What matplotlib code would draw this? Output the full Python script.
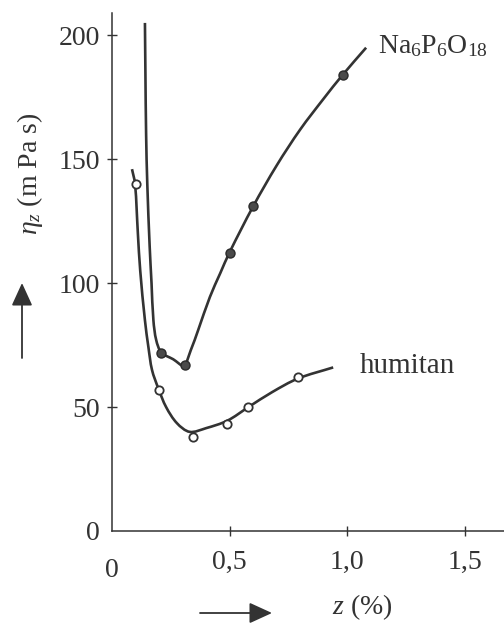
import numpy as np
import matplotlib
matplotlib.use("Agg")
import matplotlib.pyplot as plt
from matplotlib.path import Path
from matplotlib.patches import PathPatch

# measured points (z in %, viscosity in mPa s)
na_z = [0.21, 0.31, 0.50, 0.60, 0.98]
na_eta = [72, 67, 112, 131, 184]
hum_z = [0.10, 0.20, 0.345, 0.49, 0.58, 0.79]
hum_eta = [140, 57, 38, 43, 50, 62]

# hand-drawn trend curves through the points
na_curve_z = [0.140, 0.142, 0.145, 0.150, 0.160, 0.168, 0.176, 0.188, 0.21, 0.26, 0.305,
              0.335, 0.366, 0.416, 0.46, 0.50, 0.60, 0.70, 0.80, 0.90, 0.98, 1.08]
na_curve_eta = [205, 185, 160, 140, 115, 100, 85, 77, 72, 69.3, 66.8,
                73, 81, 94.4, 104, 112.5, 131, 147.5, 162, 174.5, 184, 195]
hum_curve_z = [0.085, 0.098, 0.11, 0.12, 0.14, 0.155, 0.17, 0.197, 0.23, 0.276, 0.33,
               0.40, 0.49, 0.58, 0.68, 0.79, 0.94]
hum_curve_eta = [146, 140, 120, 105, 85, 74, 65, 57.5, 50, 43.5, 40,
                 41.5, 44.5, 50, 56, 61.5, 66]

xticks = [0.5, 1.0, 1.5]
xtick_labels = ["0,5", "1,0", "1,5"]
yticks = [0, 50, 100, 150, 200]

INK = "#333333"

plt.rcParams["font.family"] = ["Liberation Serif", "DejaVu Serif"]
plt.rcParams["mathtext.fontset"] = "custom"
plt.rcParams["mathtext.rm"] = "Liberation Serif"
plt.rcParams["mathtext.it"] = "Liberation Serif:italic"


def smooth_path(ax, xs, ys):
    """Chord-length Catmull-Rom through the trace points, built in display
    space and returned as cubic bezier segments in pixels."""
    p = ax.transData.transform(np.column_stack([xs, ys]))
    n = len(p)
    d = np.linalg.norm(np.diff(p, axis=0), axis=1)
    tang = np.zeros_like(p)
    for i in range(n):
        if i == 0:
            tang[i] = (p[1] - p[0]) / d[0]
        elif i == n - 1:
            tang[i] = (p[-1] - p[-2]) / d[-1]
        else:
            tang[i] = (p[i + 1] - p[i - 1]) / (d[i - 1] + d[i])
    verts = [p[0]]
    codes = [Path.MOVETO]
    for i in range(n - 1):
        verts += [p[i] + tang[i] * d[i] / 3, p[i + 1] - tang[i + 1] * d[i] / 3, p[i + 1]]
        codes += [Path.CURVE4] * 3
    return Path(verts, codes)


fig = plt.figure(figsize=(5.04, 6.3), dpi=100)
ax = fig.add_axes([112 / 504, 1 - 531 / 630, 1 - 112 / 504, (531 - 13) / 630])
ax.set_xlim(0, 1.666)
ax.set_ylim(0, 209)

for cx, cy in [(na_curve_z, na_curve_eta), (hum_curve_z, hum_curve_eta)]:
    ax.add_patch(PathPatch(smooth_path(ax, cx, cy), fill=False, edgecolor=INK,
                           lw=1.9, capstyle="butt", transform=None, zorder=2))

ax.plot(na_z, na_eta, "o", ms=6.5, mfc="#4a4a4a", mec="#2a2a2a", mew=1.0, zorder=3)
ax.plot(hum_z, hum_eta, "o", ms=6.0, mfc="white", mec=INK, mew=1.3, zorder=3)

for s in ["top", "right"]:
    ax.spines[s].set_visible(False)
for s in ["left", "bottom"]:
    ax.spines[s].set_color(INK)
    ax.spines[s].set_linewidth(1.1)

ax.set_xticks(xticks)
ax.set_xticklabels(xtick_labels)
ax.set_yticks(yticks)
ax.set_yticklabels([str(v) for v in yticks])
ax.tick_params(axis="both", direction="inout", length=7, width=1.0, color=INK,
               labelsize=20, labelcolor=INK)
ax.tick_params(axis="x", pad=10)
ax.tick_params(axis="y", pad=5)
ax.yaxis.get_major_ticks()[0].tick1line.set_visible(False)

# the "0" under the origin
ax.text(0, -11, "0", ha="center", va="top", fontsize=20, color=INK, clip_on=False)

ax.text(1.13, 193, r"Na$_6$P$_6$O$_{18}$", fontsize=20, color=INK, va="baseline")
ax.text(1.054, 63.7, "humitan", fontsize=21, color=INK, va="baseline")

fig.text(30 / 504, 1 - 174 / 630, r"$\eta_z$ (m Pa s)", rotation=90,
         ha="center", va="center", fontsize=20, color=INK)
fig.text(362 / 504, 1 - 607 / 630, r"$z$ (%)", ha="center", va="center",
         fontsize=20, color=INK)

arrow = dict(arrowstyle="-|>,head_length=0.7,head_width=0.32", color=INK,
             lw=1.3, shrinkA=0, shrinkB=0, mutation_scale=20)
ax.annotate("", xy=(22 / 504, 1 - 283 / 630), xytext=(22 / 504, 1 - 358 / 630),
            xycoords="figure fraction", textcoords="figure fraction", arrowprops=arrow)
ax.annotate("", xy=(272 / 504, 1 - 613 / 630), xytext=(200 / 504, 1 - 613 / 630),
            xycoords="figure fraction", textcoords="figure fraction", arrowprops=arrow)

fig.savefig("out.png", dpi=100, facecolor="white")
